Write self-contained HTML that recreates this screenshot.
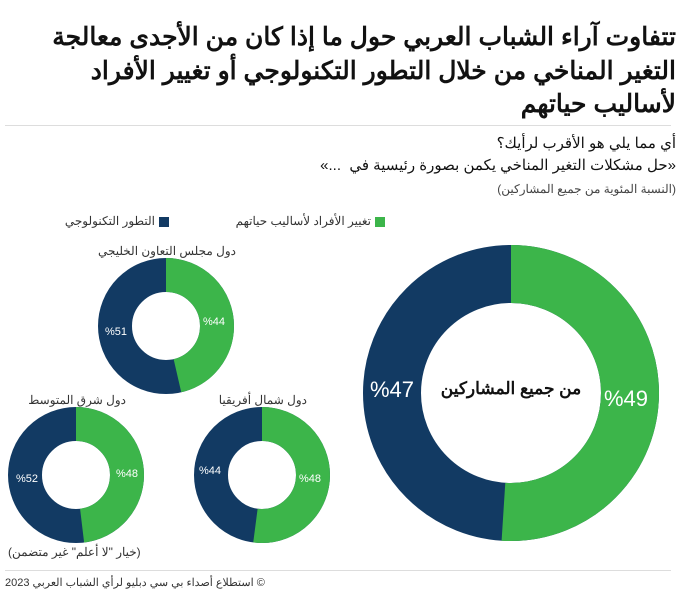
<!DOCTYPE html>
<html><head><meta charset="utf-8"><style>
body{margin:0;width:700px;height:593px;background:#fff;position:relative;overflow:hidden;font-family:"Liberation Sans","Noto Sans CJK SC",sans-serif;color:#111}
.t{position:absolute;direction:rtl;white-space:nowrap}
</style></head><body>
<div class="t" style="right:24px;top:21px;font-size:25px;font-weight:bold;line-height:33.5px;text-align:right">تتفاوت آراء الشباب العربي حول ما إذا كان من الأجدى معالجة<br>التغير المناخي من خلال التطور التكنولوجي أو تغيير الأفراد<br>لأساليب حياتهم</div>
<div style="position:absolute;left:5px;top:125px;width:666px;height:1px;background:#ddd"></div>
<div class="t" style="right:24px;top:133px;font-size:15px;line-height:22px">أي مما يلي هو الأقرب لرأيك؟<br>«حل مشكلات التغير المناخي يكمن بصورة رئيسية في&nbsp; ...»</div>
<div class="t" style="right:24px;top:182px;font-size:12px;color:#444">(النسبة المئوية من جميع المشاركين)</div>
<div style="position:absolute;left:375px;top:217px;width:10px;height:10px;background:#3cb54a"></div>
<div class="t" style="right:329px;top:214px;font-size:12px;color:#333">تغيير الأفراد لأساليب حياتهم</div>
<div style="position:absolute;left:159px;top:217px;width:10px;height:10px;background:#123a63"></div>
<div class="t" style="right:545px;top:214px;font-size:12px;color:#333">التطور التكنولوجي</div>
<svg width="700" height="593" style="position:absolute;left:0;top:0">
<g fill="none">
<circle cx="511" cy="393" r="119" stroke="#123a63" stroke-width="58"/>
<circle cx="511" cy="393" r="119" stroke="#3cb54a" stroke-width="58" stroke-dasharray="381.3 1000" transform="rotate(-90 511 393)"/>
<circle cx="166" cy="326" r="51" stroke="#123a63" stroke-width="34"/>
<circle cx="166" cy="326" r="51" stroke="#3cb54a" stroke-width="34" stroke-dasharray="148.4 1000" transform="rotate(-90 166 326)"/>
<circle cx="76" cy="475" r="51" stroke="#123a63" stroke-width="34"/>
<circle cx="76" cy="475" r="51" stroke="#3cb54a" stroke-width="34" stroke-dasharray="153.8 1000" transform="rotate(-90 76 475)"/>
<circle cx="262" cy="475" r="51" stroke="#123a63" stroke-width="34"/>
<circle cx="262" cy="475" r="51" stroke="#3cb54a" stroke-width="34" stroke-dasharray="166.6 1000" transform="rotate(-90 262 475)"/>
</g>
<g fill="#fff" font-size="11" text-anchor="middle">
<text x="214" y="325">%44</text><text x="116" y="335">%51</text>
<text x="127" y="477">%48</text><text x="27" y="482">%52</text>
<text x="310" y="482">%48</text><text x="210" y="474">%44</text>
<text x="626" y="406" font-size="22">%49</text><text x="392" y="397" font-size="22">%47</text>
</g>
</svg>
<div class="t" style="left:431px;top:379px;width:160px;text-align:center;font-size:17px;font-weight:bold">من جميع المشاركين</div>
<div class="t" style="right:464px;top:244px;font-size:12px;color:#333">دول مجلس التعاون الخليجي</div>
<div class="t" style="right:574px;top:393px;font-size:12px;color:#333">دول شرق المتوسط</div>
<div class="t" style="right:393px;top:393px;font-size:12px;color:#333">دول شمال أفريقيا</div>
<div class="t" style="left:8px;top:545px;font-size:12px;color:#333">(خيار "لا أعلم" غير متضمن)</div>
<div style="position:absolute;left:5px;top:570px;width:666px;height:1px;background:#ddd"></div>
<div class="t" style="left:5px;top:576px;font-size:11px;color:#333">© استطلاع أصداء بي سي دبليو لرأي الشباب العربي 2023</div>
</body></html>
